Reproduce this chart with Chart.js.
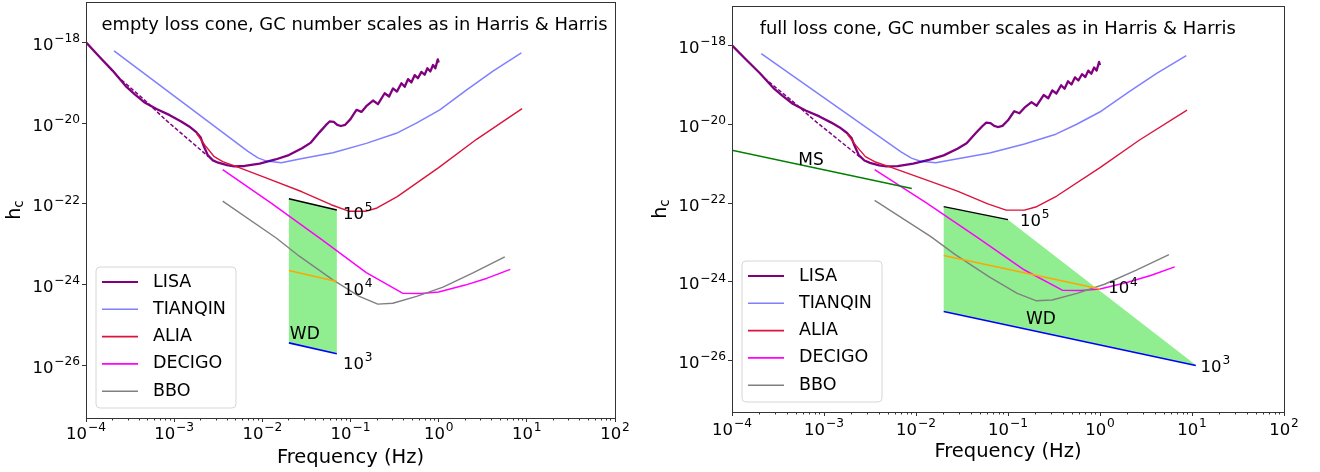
<!DOCTYPE html>
<html>
<head>
<meta charset="utf-8">
<script src="https://cdn.jsdelivr.net/npm/chart.js@4.4.0/dist/chart.umd.min.js"></script>
<style>
  body { margin: 0; background: #fff; }
  #wrap { position: relative; width: 1320px; height: 472px; overflow: hidden; }
  canvas { position: absolute; top: 0; }
  #left { left: 0; }
  #right { left: 640px; }
</style>
</head>
<body>
<div id="wrap">
  <canvas id="left" width="660" height="472"></canvas>
  <canvas id="right" width="680" height="472"></canvas>
</div>
<script>
// detector sensitivity curves (frequency in Hz, characteristic strain)
const lisaF = [1.0e-4, 1.41e-4, 2.0e-4, 2.82e-4, 3.55e-4, 4.57e-4, 6.31e-4, 8.91e-4, 1.2e-3, 1.48e-3,
  1.78e-3, 2.0e-3, 2.16e-3, 2.4e-3, 2.75e-3, 3.16e-3, 3.98e-3, 4.79e-3, 6.31e-3, 9.33e-3,
  1.41e-2, 2.0e-2, 2.82e-2, 3.55e-2, 4.47e-2, 5.25e-2, 5.8e-2, 6.46e-2, 7.08e-2, 7.76e-2,
  8.71e-2, 0.1, 0.11, 0.117, 0.133, 0.151, 0.18, 0.205, 0.244, 0.274,
  0.303, 0.336, 0.378, 0.412, 0.449, 0.49, 0.535, 0.582, 0.637, 0.693,
  0.745, 0.805, 0.863, 0.918, 0.977, 1.0]
const lisaH = [1.0e-18, 4.47e-19, 2.0e-19, 8.3e-20, 5.25e-20, 3.31e-20, 2.24e-20, 1.58e-20, 1.1e-20, 8.3e-21,
  6.0e-21, 4.4e-21, 2.75e-21, 1.62e-21, 1.2e-21, 1.05e-21, 9.1e-22, 8.5e-22, 8.7e-22, 1.0e-21,
  1.26e-21, 1.62e-21, 2.4e-21, 3.3e-21, 6.0e-21, 8.9e-21, 1.1e-20, 1.07e-20, 9.1e-21, 8.5e-21,
  9.1e-21, 1.26e-20, 1.74e-20, 2.14e-20, 1.9e-20, 2.63e-20, 3.63e-20, 2.95e-20, 5.5e-20, 4.57e-20,
  7.24e-20, 6.03e-20, 9.77e-20, 7.94e-20, 1.23e-19, 1.02e-19, 1.55e-19, 1.29e-19, 1.86e-19, 1.58e-19,
  2.29e-19, 1.91e-19, 2.75e-19, 2.29e-19, 3.8e-19, 3.16e-19]

// LISA without the galactic confusion bump (dashed)
const lisaNoConfF = [2.24e-4, 4.47e-4, 8.32e-4, 1.41e-3, 2.45e-3]
const lisaNoConfH = [1.48e-19, 3.98e-20, 1.12e-20, 4.17e-21, 1.48e-21]

const tianqinF = [2.08e-4, 6.87e-3, 8.91e-3, 1.12e-2, 1.64e-2, 2.65e-2, 6.32e-2, 0.151, 0.331, 0.558, 1.03, 2.06, 4.13, 8.67]
const tianqinH = [6.17e-19, 2.0e-21, 1.38e-21, 1.15e-21, 1.05e-21, 1.29e-21, 1.86e-21, 3.16e-21, 5.6e-21, 1.0e-20, 2.14e-20, 6.6e-20, 1.95e-19, 5.5e-19]

const aliaF = [1.79e-3, 2.24e-3, 2.82e-3, 3.55e-3, 5.01e-3, 1.12e-2, 2.82e-2, 6.03e-2, 9.55e-2, 0.151, 0.2, 0.339, 1.0, 2.69, 8.83]
const aliaH = [5.62e-21, 2.82e-21, 1.51e-21, 1.12e-21, 8.51e-22, 4.37e-22, 2.0e-22, 9.55e-23, 6.61e-23, 6.61e-23, 7.94e-23, 1.51e-22, 7.94e-22, 3.98e-21, 2.29e-20]

const decigoF = [3.55e-3, 1.26e-2, 4.68e-2, 0.151, 0.389, 0.631, 1.0, 2.0, 3.55, 6.49]
const decigoH = [7.08e-22, 1.05e-22, 1.32e-23, 2.0e-24, 6.17e-25, 6.03e-25, 6.61e-25, 9.77e-25, 1.45e-24, 2.4e-24]

const bboF = [3.55e-3, 1.45e-2, 2.65e-2, 6.31e-2, 0.126, 0.204, 0.302, 0.562, 1.12, 2.45, 5.62]
const bboH = [1.17e-22, 1.41e-23, 5.01e-24, 1.32e-24, 5.13e-25, 3.31e-25, 3.47e-25, 5.13e-25, 8.71e-25, 1.95e-24, 4.9e-24]

// GC populations, empty loss cone (left)
const wdEmptyF = [0.02, 0.07]
const wdEmpty1e5H = [1.35e-22, 7.08e-23]
const wdEmpty1e4H = [2.24e-24, 1.2e-24]
const wdEmpty1e3H = [3.63e-26, 1.95e-26]

// GC populations, full loss cone (right)
const wdFull1e5F = [0.02, 0.1]
const wdFull1e5H = [8.13e-23, 3.8e-23]
const wdFullEdgeF = [0.02, 0.1, 11]
const wdFullEdgeH = [8.13e-23, 3.8e-23, 7.8e-27]
const wdFull1e4F = [0.02, 1.0]
const wdFull1e4H = [4.68e-24, 6.61e-25]
const wdFull1e3F = [0.02, 11]
const wdFull1e3H = [1.78e-25, 7.6e-27]
const msF = [1e-4, 9e-3]
const msH = [2.19e-21, 2.34e-22]

const detectors = ['LISA', 'TIANQIN', 'ALIA', 'DECIGO', 'BBO']
const xTickExps = [-4, -3, -2, -1, 0, 1, 2]
const xMinorMult = [2, 3, 4, 5, 6, 7, 8, 9]
const yTickExps = [-26, -24, -22, -20, -18]
const xMin = 1e-4, xMax = 1e2, yMin = 5e-28, yMax = 1e-17

const colors = {
  LISA: '#800080', TIANQIN: 'rgba(0,0,255,0.5)', ALIA: '#dc143c', DECIGO: '#ff00ff', BBO: '#808080',
}
const FONT = '"DejaVu Sans", sans-serif'

const pts = (fs, hs) => fs.map((f, i) => ({ x: f, y: hs[i] }))
const line = (data, color, width, order, dash) => ({
  data, borderColor: color, borderWidth: width, borderDash: dash || [],
  pointRadius: 0, fill: false, tension: 0, order, borderJoinStyle: 'round',
})
const shape = (data) => ({
  data, backgroundColor: '#90ee90', borderWidth: 0, borderColor: 'rgba(0,0,0,0)',
  pointRadius: 0, fill: 'shape', tension: 0, order: 20,
})

const curveSets = () => [
  line(pts(lisaF, lisaH), colors.LISA, 2.3, 6),
  line(pts(lisaNoConfF, lisaNoConfH), colors.LISA, 1.5, 6, [4, 2]),
  line(pts(tianqinF, tianqinH), colors.TIANQIN, 1.5, 5),
  line(pts(aliaF, aliaH), colors.ALIA, 1.4, 4),
  line(pts(decigoF, decigoH), colors.DECIGO, 1.5, 3),
  line(pts(bboF, bboH), colors.BBO, 1.4, 2),
]

function powText(ctx, exp, x, y, align, size) {
  const base = '10'
  const sup = exp < 0 ? '\u2212' + (-exp) : String(exp)
  const ss = size * 0.74
  ctx.font = size + 'px ' + FONT
  const wb = ctx.measureText(base).width
  ctx.font = ss + 'px ' + FONT
  const ws = ctx.measureText(sup).width
  const total = wb + ws + 0.8
  const x0 = align === 'center' ? x - total / 2 : align === 'right' ? x - total : x
  ctx.textAlign = 'left'
  ctx.textBaseline = 'alphabetic'
  ctx.font = size + 'px ' + FONT
  ctx.fillText(base, x0, y)
  ctx.font = ss + 'px ' + FONT
  ctx.fillText(sup, x0 + wb + 0.8, y - size * 0.47)
}

function decorPlugin(panel) {
  return {
    id: 'decor',
    afterDraw(chart) {
      const { ctx, chartArea: a } = chart
      const sx = chart.scales.x, sy = chart.scales.y
      const px = (v) => Math.floor(v) + 0.5
      ctx.save()

      // frame and ticks
      ctx.strokeStyle = '#333'
      ctx.lineWidth = 1
      ctx.strokeRect(px(a.left), px(a.top), Math.round(a.right - a.left), Math.round(a.bottom - a.top))
      ctx.beginPath()
      xTickExps.forEach((e, i) => {
        const X = px(sx.getPixelForValue(10 ** e))
        ctx.moveTo(X, a.bottom); ctx.lineTo(X, a.bottom + 4)
        if (i < xTickExps.length - 1) {
          xMinorMult.forEach((m) => {
            const Xm = px(sx.getPixelForValue(m * 10 ** e))
            ctx.moveTo(Xm, a.bottom); ctx.lineTo(Xm, a.bottom + 2.5)
          })
        }
      })
      yTickExps.forEach((e) => {
        const Y = px(sy.getPixelForValue(10 ** e))
        ctx.moveTo(a.left, Y); ctx.lineTo(a.left - 4, Y)
      })
      ctx.stroke()

      ctx.fillStyle = '#000'
      xTickExps.forEach((e) => powText(ctx, e, sx.getPixelForValue(10 ** e), a.bottom + panel.xTickDy, 'center', 16.5))
      yTickExps.forEach((e) => powText(ctx, e, a.left - 6, sy.getPixelForValue(10 ** e) + 7.5, 'right', 16.5))

      // axis titles
      ctx.font = '19.5px ' + FONT
      ctx.textAlign = 'center'
      ctx.textBaseline = 'alphabetic'
      ctx.fillText('Frequency (Hz)', (a.left + a.right) / 2, a.bottom + 44.5)

      ctx.save()
      ctx.translate(a.left - 66, (a.top + a.bottom) / 2)
      ctx.rotate(-Math.PI / 2)
      ctx.font = '19px ' + FONT
      const wh = ctx.measureText('h').width
      ctx.font = '13.5px ' + FONT
      const wc = ctx.measureText('c').width
      ctx.textAlign = 'left'
      ctx.font = '19px ' + FONT
      ctx.fillText('h', -(wh + wc) / 2, 0)
      ctx.font = '13.5px ' + FONT
      ctx.fillText('c', -(wh + wc) / 2 + wh, 2.5)
      ctx.restore()

      // panel title
      ctx.font = '17.9px ' + FONT
      ctx.textAlign = 'left'
      ctx.fillText(panel.title, sx.getPixelForValue(panel.titleAt[0]), sy.getPixelForValue(panel.titleAt[1]))

      // population labels
      panel.notes.forEach((n) => {
        const X = sx.getPixelForValue(n.at[0]), Y = sy.getPixelForValue(n.at[1])
        if (n.pow !== undefined) {
          powText(ctx, n.pow, X, Y, 'left', 16.5)
        } else {
          ctx.font = '17px ' + FONT
          ctx.textAlign = 'left'
          ctx.textBaseline = 'alphabetic'
          ctx.fillText(n.text, X, Y)
        }
      })

      // legend
      const bw = 140, bh = 141, r = 4
      const bx = a.left + 10, by = a.bottom - 10 - bh
      ctx.beginPath()
      ctx.moveTo(bx + r, by)
      ctx.arcTo(bx + bw, by, bx + bw, by + bh, r)
      ctx.arcTo(bx + bw, by + bh, bx, by + bh, r)
      ctx.arcTo(bx, by + bh, bx, by, r)
      ctx.arcTo(bx, by, bx + bw, by, r)
      ctx.closePath()
      ctx.fillStyle = 'rgba(255,255,255,0.8)'
      ctx.fill()
      ctx.strokeStyle = '#d6d6d6'
      ctx.stroke()
      detectors.forEach((name, i) => {
        const Y = by + 15 + i * 27.3
        ctx.beginPath()
        ctx.strokeStyle = colors[name]
        ctx.lineWidth = name === 'LISA' ? 2 : 1.6
        ctx.moveTo(bx + 6, Y); ctx.lineTo(bx + 42, Y)
        ctx.stroke()
        ctx.fillStyle = '#000'
        ctx.font = '17.5px ' + FONT
        ctx.textAlign = 'left'
        ctx.textBaseline = 'middle'
        ctx.fillText(name, bx + 57, Y)
      })

      ctx.restore()
    },
  }
}

function makeChart(id, panel, datasets) {
  return new Chart(document.getElementById(id), {
    type: 'line',
    data: { datasets },
    options: {
      responsive: false,
      animation: false,
      devicePixelRatio: 1,
      layout: { padding: panel.pad },
      plugins: { legend: { display: false }, tooltip: { enabled: false } },
      scales: {
        x: {
          type: 'logarithmic', min: xMin, max: xMax,
          ticks: { display: false }, grid: { display: false }, border: { display: false },
          afterFit: (s) => { s.height = panel.xAxisH },
        },
        y: {
          type: 'logarithmic', min: yMin, max: yMax,
          ticks: { display: false }, grid: { display: false }, border: { display: false },
          afterFit: (s) => { s.width = panel.yAxisW },
        },
      },
    },
    plugins: [decorPlugin(panel)],
  })
}

const leftSets = curveSets().concat([
  line(pts(wdEmptyF, wdEmpty1e5H), '#000', 1.5, 1),
  line(pts(wdEmptyF, wdEmpty1e4H), '#ffa500', 1.5, 1),
  line(pts(wdEmptyF, wdEmpty1e3H), '#0000ff', 1.6, 1),
  shape(pts(wdEmptyF.concat(wdEmptyF.slice().reverse()), wdEmpty1e5H.concat(wdEmpty1e3H.slice().reverse()))),
])

const rightSets = curveSets().concat([
  line(pts(msF, msH), '#008000', 1.5, 1),
  line(pts(wdFull1e5F, wdFull1e5H), '#000', 1.5, 1),
  line(pts(wdFull1e4F, wdFull1e4H), '#ffa500', 1.5, 1),
  line(pts(wdFull1e3F, wdFull1e3H), '#0000ff', 1.6, 1),
  shape(pts(wdFullEdgeF.concat(wdFull1e3F.slice().reverse()), wdFullEdgeH.concat(wdFull1e3H.slice().reverse()))),
])

makeChart('left', {
  pad: { top: 2, right: 45, left: 0, bottom: 0 }, yAxisW: 86, xAxisH: 54, xTickDy: 21,
  title: 'empty loss cone, GC number scales as in Harris & Harris', titleAt: [1.5e-4, 2e-18],
  notes: [
    { pow: 5, at: [0.082, 4.23e-23] },
    { pow: 4, at: [0.082, 5.52e-25] },
    { pow: 3, at: [0.082, 8.4e-27] },
    { text: 'WD', at: [0.0205, 4.4e-26] },
  ],
}, leftSets)

makeChart('right', {
  pad: { top: 6, right: 36, left: 0, bottom: 0 }, yAxisW: 92, xAxisH: 60, xTickDy: 23,
  title: 'full loss cone, GC number scales as in Harris & Harris', titleAt: [2e-4, 2e-18],
  notes: [
    { pow: 5, at: [0.135, 2.61e-23] },
    { pow: 4, at: [1.23, 5.13e-25] },
    { pow: 3, at: [12.4, 5.27e-27] },
    { text: 'WD', at: [0.157, 8.53e-26] },
    { text: 'MS', at: [5.26e-4, 9.16e-22] },
  ],
}, rightSets)
</script>
</body>
</html>
